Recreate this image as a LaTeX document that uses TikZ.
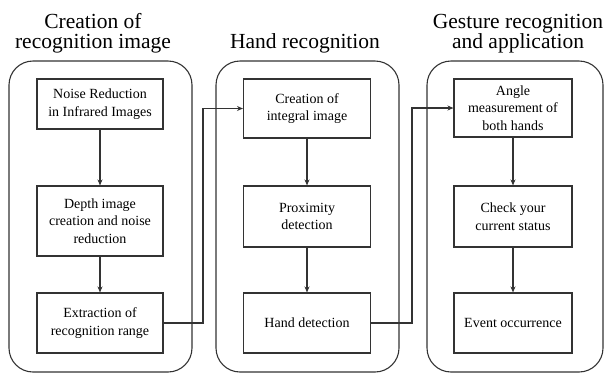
\documentclass[tikz,border=0pt]{standalone}
\usepackage{fontspec}
\setmainfont{Liberation Serif}
\usetikzlibrary{arrows.meta}
\begin{document}
\begin{tikzpicture}[x=1pt,y=-1pt,
  panel/.style={draw=black!80,line width=1.1pt,rounded corners=24pt},
  stepbox/.style={draw=black!80,line width=1.1pt,inner sep=0pt,align=center,
    font=\fontsize{14}{17.5}\selectfont},
  ttl/.style={align=center,font=\fontsize{21.5}{20}\selectfont,inner sep=0pt},
  arr/.style={draw=black!80,line width=1.1pt,-{Stealth[length=6pt,width=5pt]}}]
\useasboundingbox (0,0) rectangle (605,376);
% panels
\draw[panel] (9,61) rectangle (192,372);
\draw[panel] (216,61) rectangle (399,372);
\draw[panel] (427,61) rectangle (603,372);
% titles
\node[ttl,anchor=base] (t1) at (93,48) {Creation of\\recognition image};
\node[ttl,anchor=base] (t2) at (305,48) {Hand recognition};
\node[ttl,anchor=base] (t3) at (518,48) {Gesture recognition\\and application};
% panel 1 boxes
\node[stepbox,minimum width=126pt,minimum height=50pt] (a1) at (100,104) {Noise Reduction\\in Infrared Images};
\node[stepbox,minimum width=126pt,minimum height=70pt] (a2) at (100,221) {Depth image\\creation and noise\\reduction};
\node[stepbox,minimum width=126pt,minimum height=60pt] (a3) at (100,323) {Extraction of\\recognition range};
% panel 2 boxes
\node[stepbox,minimum width=127pt,minimum height=59pt] (b1) at (307,108.5) {Creation of\\integral image};
\node[stepbox,minimum width=127pt,minimum height=61pt] (b2) at (307,216.5) {Proximity\\detection};
\node[stepbox,minimum width=127pt,minimum height=60pt] (b3) at (307,323) {Hand detection};
% panel 3 boxes
\node[stepbox,minimum width=118pt,minimum height=58pt] (c1) at (513,108) {Angle\\measurement of\\both hands};
\node[stepbox,minimum width=118pt,minimum height=61pt] (c2) at (513,216.5) {Check your\\current status};
\node[stepbox,minimum width=118pt,minimum height=60pt] (c3) at (513,323) {Event occurrence};
% vertical arrows
\draw[arr] (a1) -- (a2);
\draw[arr] (a2) -- (a3);
\draw[arr] (b1) -- (b2);
\draw[arr] (b2) -- (b3);
\draw[arr] (c1) -- (c2);
\draw[arr] (c2) -- (c3);
% cross-panel connectors
\coordinate (k1) at (203,0);
\coordinate (k2) at (412,0);
\draw[arr] (a3.east) -| (k1 |- b1.west) -- (b1.west);
\draw[arr] (b3.east) -| (k2 |- c1.west) -- (c1.west);
\end{tikzpicture}
\end{document}
